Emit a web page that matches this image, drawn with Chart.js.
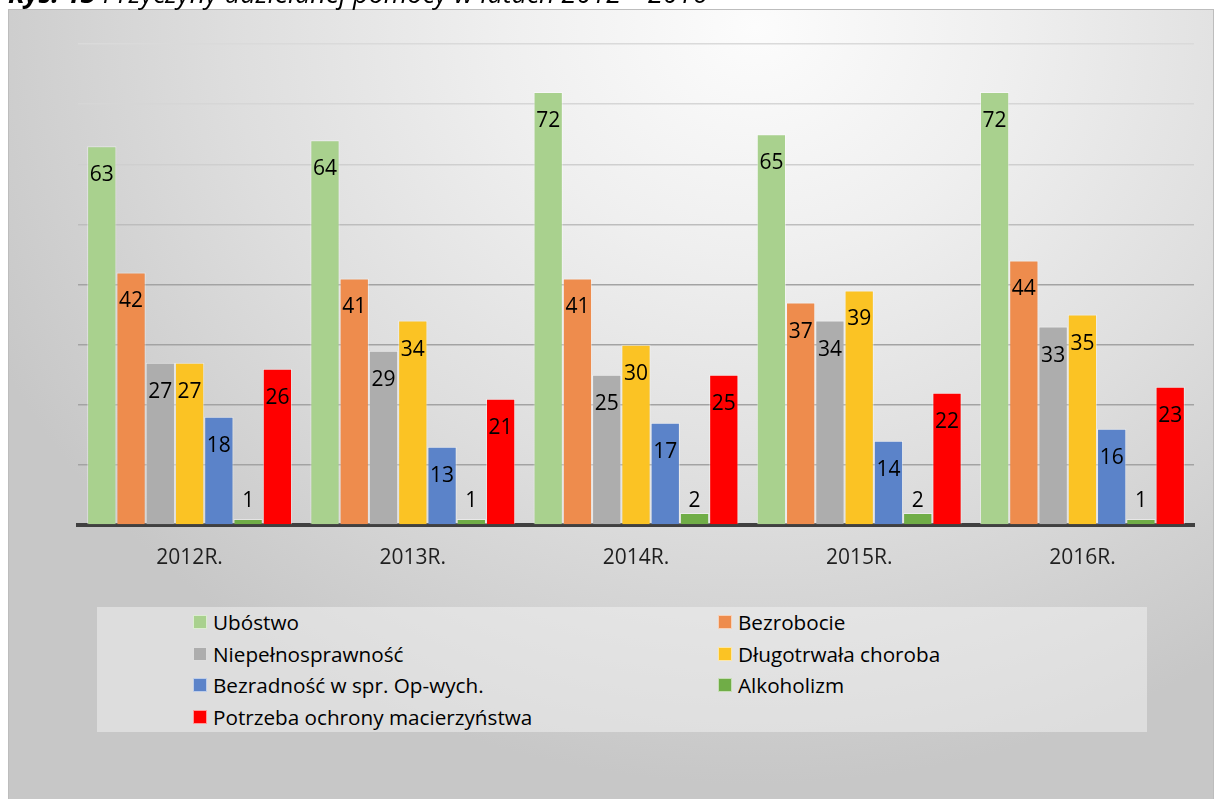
<!DOCTYPE html>
<html><head><meta charset="utf-8">
<script src="https://cdn.jsdelivr.net/npm/chart.js@4.4.1/dist/chart.umd.min.js"></script>
<style>
html,body{margin:0;padding:0;width:1215px;height:799px;overflow:hidden;background:#fff;font-family:'Open Sans',sans-serif;}
#panel{position:absolute;left:8px;top:9px;width:1206px;height:800px;box-sizing:border-box;border:1px solid #bdbdbd;
  background:radial-gradient(ellipse 70% 95% at 62% 2%, #fcfcfc 0%, #efefef 30%, #dedede 62%, #c7c7c7 100%);}
#legend{position:absolute;left:97px;top:607px;width:1050px;height:125px;background:rgba(243,243,243,0.5);}
#title{position:absolute;left:8px;top:-25px;font-size:27px;line-height:36px;font-style:italic;color:#000;white-space:nowrap;z-index:5;}
#title b{font-weight:700;}
.li{position:absolute;height:30px;display:flex;align-items:center;font-size:20.7px;color:#000;white-space:nowrap;}
.li span.m{display:inline-block;width:12px;height:12px;border:1px solid rgba(255,255,255,0.6);margin-right:6px;}
#wrap{position:absolute;left:0;top:0;width:1215px;height:799px;}
</style></head>
<body>
<div id="panel"></div>
<div id="legend"></div>
<div id="title"><b>Rys. 13</b> Przyczyny udzielanej pomocy w latach 2012 – 2016</div>
<div id="wrap"><canvas id="c" width="1215" height="799"></canvas></div>
<script>
const categories = ['2012R.', '2013R.', '2014R.', '2015R.', '2016R.'];
const seriesNames = ['Ubóstwo', 'Bezrobocie', 'Niepełnosprawność', 'Długotrwała choroba', 'Bezradność w spr. Op-wych.', 'Alkoholizm', 'Potrzeba ochrony macierzyństwa'];
const ubostwo = [63, 64, 72, 65, 72];
const bezrobocie = [42, 41, 41, 37, 44];
const niepelnosprawnosc = [27, 29, 25, 34, 33];
const dlugotrwalaChoroba = [27, 34, 30, 39, 35];
const bezradnosc = [18, 13, 17, 14, 16];
const alkoholizm = [1, 1, 2, 2, 1];
const potrzebaOchrony = [26, 21, 25, 22, 23];
const seriesColors = ['#A9D18E', '#EE8C4D', '#ADADAD', '#FBC324', '#5B83C9', '#70AD47', '#FF0000'];
const yTicks = [0, 10, 20, 30, 40, 50, 60, 70, 80];

const seriesValues = [ubostwo, bezrobocie, niepelnosprawnosc, dlugotrwalaChoroba, bezradnosc, alkoholizm, potrzebaOchrony];

// HTML legend (two columns, row-major)
const legendEl = document.getElementById('legend');
seriesNames.forEach((name, i) => {
  const col = i % 2, row = Math.floor(i / 2);
  const d = document.createElement('div');
  d.className = 'li';
  d.style.left = (col === 0 ? 96 : 621) + 'px';
  d.style.top = (0 + row * 31.5) + 'px';
  const m = document.createElement('span');
  m.className = 'm';
  m.style.background = seriesColors[i];
  d.appendChild(m);
  d.appendChild(document.createTextNode(name));
  legendEl.appendChild(d);
});

const valueLabels = {
  id: 'valueLabels',
  afterDatasetsDraw(chart) {
    const ctx = chart.ctx;
    const ys = chart.scales.y;
    ctx.save();
    ctx.font = '21px "Open Sans"';
    ctx.fillStyle = '#000';
    ctx.textAlign = 'center';
    ctx.textBaseline = 'middle';
    chart.data.datasets.forEach((ds, i) => {
      chart.getDatasetMeta(i).data.forEach((bar, j) => {
        const v = ds.data[j];
        const y = Math.min(bar.y + 29, ys.getPixelForValue(4));
        ctx.fillText(String(v), bar.x, y);
      });
    });
    ctx.restore();
  }
};

function gridColor(c) {
  const v = c.tick ? c.tick.value : 0;
  if (v >= 80) return '#dadada';
  if (v >= 70) return '#d6d6d6';
  if (v >= 60) return '#cfcfcf';
  if (v >= 50) return '#bdbdbd';
  return '#a3a3a3';
}

new Chart(document.getElementById('c'), {
  type: 'bar',
  data: {
    labels: categories,
    datasets: seriesNames.map((n, i) => ({
      label: n,
      data: seriesValues[i],
      backgroundColor: seriesColors[i],
      borderColor: 'rgba(255,255,255,0.45)',
      borderWidth: 1,
      categoryPercentage: 0.918,
      barPercentage: 1
    }))
  },
  options: {
    responsive: false,
    animation: false,
    layout: { padding: { left: 78, right: 21, top: 44, bottom: 228 } },
    plugins: { legend: { display: false }, tooltip: { enabled: false } },
    scales: {
      x: {
        grid: { display: false, drawTicks: false },
        border: { display: true, color: '#404040', width: 4 },
        ticks: { color: '#1f1f1f', font: { family: 'Open Sans', size: 21 }, padding: 20, maxRotation: 0 },
        afterFit(s) { s.height = 46; }
      },
      y: {
        min: 0, max: 80,
        afterBuildTicks(s) { s.ticks = yTicks.map(v => ({ value: v })); },
        ticks: { display: false },
        border: { display: false },
        grid: { color: gridColor, lineWidth: 1.5, drawTicks: false },
        afterFit(s) { s.width = 0; }
      }
    }
  },
  plugins: [valueLabels]
});
</script>
</body></html>
